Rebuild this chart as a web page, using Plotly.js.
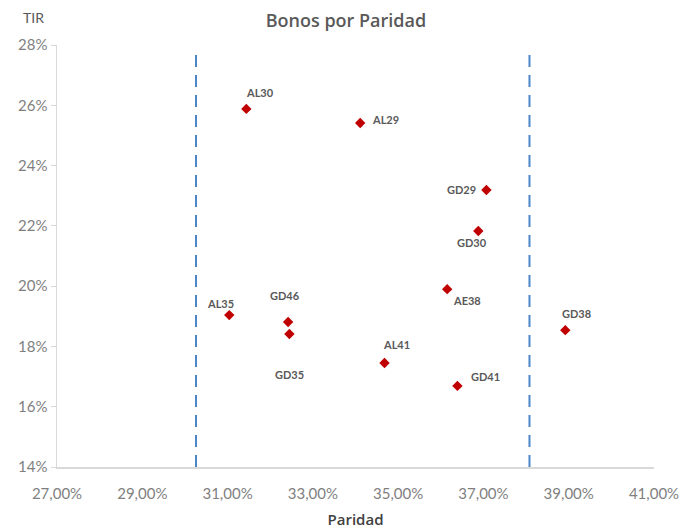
<!DOCTYPE html>
<html>
<head>
<meta charset="utf-8">
<script src="https://cdn.plot.ly/plotly-3.0.1.min.js"></script>
<style>html,body{margin:0;padding:0;background:#fff}#chart{width:679px;height:530px}</style>
</head>
<body>
<div id="chart"></div>
<script>
// Data (percent units)
const bonos    = ['AL30','AL29','GD29','GD30','AE38','GD38','AL35','GD46','GD35','AL41','GD41'];
const paridad  = [31.44, 34.11, 37.07, 36.88, 36.15, 38.92, 31.04, 32.42, 32.45, 34.68, 36.39];
const tir      = [25.88, 25.41, 23.19, 21.83, 19.90, 18.54, 19.04, 18.81, 18.41, 17.45, 16.69];
// Reference band (vertical dashed lines)
const bandX    = [30.26, 38.08];
const bandY    = [14, 27.85];
const xTicks   = [27, 29, 31, 33, 35, 37, 39, 41];
const yTicks   = [14, 16, 18, 20, 22, 24, 26, 28];

// label offsets in pixels (style): [dx, dy] with dy positive = down
const labelShift = {
  AL30:[14,-16], AL29:[25,-4], GD29:[-25,0], GD30:[-6,12], AE38:[20,11],
  GD38:[11,-17], AL35:[-9,-12], GD46:[-3,-27], GD35:[0,40], AL41:[12,-19], GD41:[28,-9]
};

const font = "Lato, 'Open Sans', sans-serif";
const dashLine = {color:'#4a86c8', width:2, dash:'12px,8px'};
const traces = [
  {x:[bandX[0],bandX[0]], y:bandY, mode:'lines', line:dashLine, hoverinfo:'skip', showlegend:false},
  {x:[bandX[1],bandX[1]], y:bandY, mode:'lines', line:dashLine, hoverinfo:'skip', showlegend:false},
  {x:paridad, y:tir, text:bonos, mode:'markers', type:'scatter',
   marker:{symbol:'diamond', color:'#c00000', size:8}, showlegend:false}
];

const annotations = bonos.map((b,i)=>({
  x:paridad[i], y:tir[i], text:'<b>'+b+'</b>', showarrow:false,
  xshift:labelShift[b][0], yshift:-labelShift[b][1],
  font:{family:font, size:11, color:'#595959'}
}));
annotations.push({xref:'paper', yref:'paper', x:-0.04, y:1.066, xanchor:'center', yanchor:'middle',
  text:'TIR', showarrow:false, font:{family:font, size:14, color:'#595959'}});

const layout = {
  width:679, height:530,
  margin:{l:57, r:25, t:45, b:63},
  paper_bgcolor:'#fff', plot_bgcolor:'#fff',
  separators:',.',
  title:{text:'Bonos por Paridad', font:{family:"'Open Sans', sans-serif", size:18, color:'#595959', weight:600}, xref:'paper', x:0.484, xanchor:'center', y:0.972, yanchor:'top'},
  xaxis:{range:[27,41], tickvals:xTicks, ticktext:xTicks.map(v=>v.toFixed(2).replace('.',',')+'%'),
    showgrid:false, zeroline:false, showline:true, linecolor:'#d9d9d9', linewidth:1.5,
    ticklabeloverflow:'allow', automargin:false,
    ticks:'outside', ticklen:12, tickcolor:'rgba(0,0,0,0)', tickfont:{family:font, size:15, color:'#7f7f7f'},
    title:{text:'Paridad', font:{family:"'Open Sans', sans-serif", size:15, color:'#404040', weight:600}, standoff:14}},
  yaxis:{range:[14,28], tickvals:yTicks, ticktext:yTicks.map(v=>v+'%'),
    showgrid:false, zeroline:false, showline:true, linecolor:'#d9d9d9', linewidth:1.5,
    ticks:'outside', ticklen:5, tickcolor:'#d9d9d9', tickfont:{family:font, size:15, color:'#7f7f7f'}},
  annotations:annotations,
  hovermode:'closest'
};
Plotly.newPlot('chart', traces, layout, {displayModeBar:false, staticPlot:true});
</script>
</body>
</html>
